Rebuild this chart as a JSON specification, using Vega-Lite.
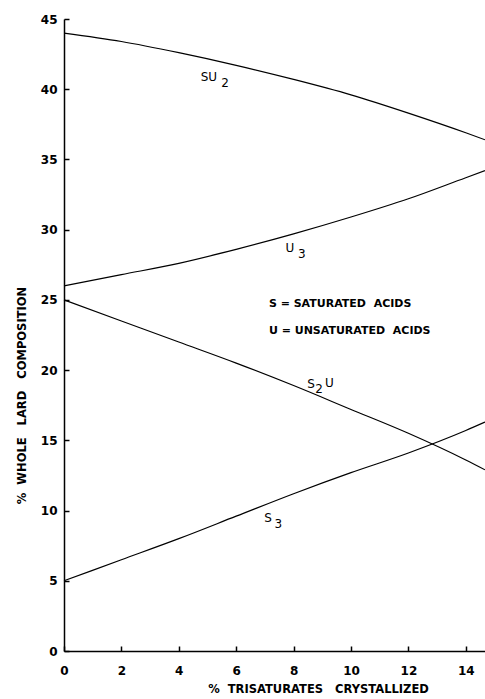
{
  "$schema": "https://vega.github.io/schema/vega-lite/v6.json",
  "width": 421,
  "height": 632,
  "autosize": {"type": "none"},
  "padding": {"left": 64, "top": 19, "right": 0, "bottom": 48},
  "background": "white",
  "config": {
    "view": {"stroke": null},
    "font": "DejaVu Sans",
    "axis": {
      "domainColor": "black",
      "domainWidth": 1.5,
      "tickColor": "black",
      "tickWidth": 1.5,
      "tickSize": -5,
      "grid": false,
      "labelFlush": false,
      "labelColor": "black",
      "labelFont": "DejaVu Sans",
      "labelFontWeight": "bold",
      "labelFontSize": 12,
      "titleColor": "black",
      "titleFont": "DejaVu Sans",
      "titleFontWeight": "bold",
      "titleFontSize": 11.5
    }
  },
  "datasets": {
    "curves": [
      {"series": "SU2", "x": 0, "y": 44.0},
      {"series": "SU2", "x": 2, "y": 43.4},
      {"series": "SU2", "x": 4, "y": 42.6},
      {"series": "SU2", "x": 6, "y": 41.7},
      {"series": "SU2", "x": 8, "y": 40.7},
      {"series": "SU2", "x": 10, "y": 39.6},
      {"series": "SU2", "x": 12, "y": 38.3},
      {"series": "SU2", "x": 14, "y": 36.9},
      {"series": "SU2", "x": 14.67, "y": 36.4},
      {"series": "U3", "x": 0, "y": 26.0},
      {"series": "U3", "x": 2, "y": 26.8},
      {"series": "U3", "x": 4, "y": 27.6},
      {"series": "U3", "x": 6, "y": 28.6},
      {"series": "U3", "x": 8, "y": 29.7},
      {"series": "U3", "x": 10, "y": 30.9},
      {"series": "U3", "x": 12, "y": 32.2},
      {"series": "U3", "x": 14, "y": 33.7},
      {"series": "U3", "x": 14.67, "y": 34.2},
      {"series": "S2U", "x": 0, "y": 25.0},
      {"series": "S2U", "x": 2, "y": 23.5},
      {"series": "S2U", "x": 4, "y": 22.0},
      {"series": "S2U", "x": 6, "y": 20.5},
      {"series": "S2U", "x": 8, "y": 18.9},
      {"series": "S2U", "x": 10, "y": 17.2},
      {"series": "S2U", "x": 12, "y": 15.5},
      {"series": "S2U", "x": 14, "y": 13.6},
      {"series": "S2U", "x": 14.67, "y": 12.9},
      {"series": "S3", "x": 0, "y": 5.0},
      {"series": "S3", "x": 2, "y": 6.5},
      {"series": "S3", "x": 4, "y": 8.0},
      {"series": "S3", "x": 6, "y": 9.6},
      {"series": "S3", "x": 8, "y": 11.2},
      {"series": "S3", "x": 10, "y": 12.7},
      {"series": "S3", "x": 12, "y": 14.1},
      {"series": "S3", "x": 14, "y": 15.7},
      {"series": "S3", "x": 14.67, "y": 16.3}
    ],
    "labels": [
      {"text": "SU", "x": 5.05, "y": 40.85},
      {"text": "2", "x": 5.61, "y": 40.45},
      {"text": "U", "x": 7.87, "y": 28.67},
      {"text": "3", "x": 8.29, "y": 28.25},
      {"text": "S", "x": 8.61, "y": 18.98},
      {"text": "2", "x": 8.89, "y": 18.68},
      {"text": "U", "x": 9.25, "y": 19.05},
      {"text": "S", "x": 7.11, "y": 9.5},
      {"text": "3", "x": 7.47, "y": 9.05}
    ],
    "notes": [
      {"text": "S = SATURATED\u00a0\u00a0ACIDS", "x": 7.14, "y": 24.7},
      {"text": "U = UNSATURATED\u00a0\u00a0ACIDS", "x": 7.14, "y": 22.75}
    ]
  },
  "layer": [
    {
      "data": {"name": "curves"},
      "mark": {"type": "line", "color": "black", "strokeWidth": 1.2, "interpolate": "monotone"},
      "encoding": {
        "x": {
          "field": "x", "type": "quantitative",
          "scale": {"domain": [0, 14.67], "nice": false, "zero": false},
          "axis": {
            "values": [0, 2, 4, 6, 8, 10, 12, 14],
            "labelPadding": 19,
            "title": "%\u00a0\u00a0TRISATURATES\u00a0\u00a0\u00a0CRYSTALLIZED",
            "titleX": 254,
            "titleY": 38,
            "titleBaseline": "middle",
            "titleAlign": "center"
          }
        },
        "y": {
          "field": "y", "type": "quantitative",
          "scale": {"domain": [0, 45], "nice": false},
          "axis": {
            "values": [0, 5, 10, 15, 20, 25, 30, 35, 40, 45],
            "labelPadding": 12,
            "title": "%\u00a0\u00a0WHOLE\u00a0\u00a0\u00a0LARD\u00a0\u00a0\u00a0COMPOSITION",
            "titleX": -42,
            "titleY": 376,
            "titleBaseline": "middle",
            "titleAlign": "center",
            "titleAngle": -90
          }
        },
        "detail": {"field": "series"}
      }
    },
    {
      "data": {"name": "labels"},
      "mark": {"type": "text", "color": "black", "fontSize": 12, "fontWeight": 500, "font": "DejaVu Sans", "align": "center", "baseline": "middle"},
      "encoding": {
        "x": {"field": "x", "type": "quantitative"},
        "y": {"field": "y", "type": "quantitative"},
        "text": {"field": "text"}
      }
    },
    {
      "data": {"name": "notes"},
      "mark": {"type": "text", "color": "black", "fontSize": 11, "fontWeight": "bold", "font": "DejaVu Sans", "align": "left", "baseline": "middle"},
      "encoding": {
        "x": {"field": "x", "type": "quantitative"},
        "y": {"field": "y", "type": "quantitative"},
        "text": {"field": "text"}
      }
    }
  ]
}
